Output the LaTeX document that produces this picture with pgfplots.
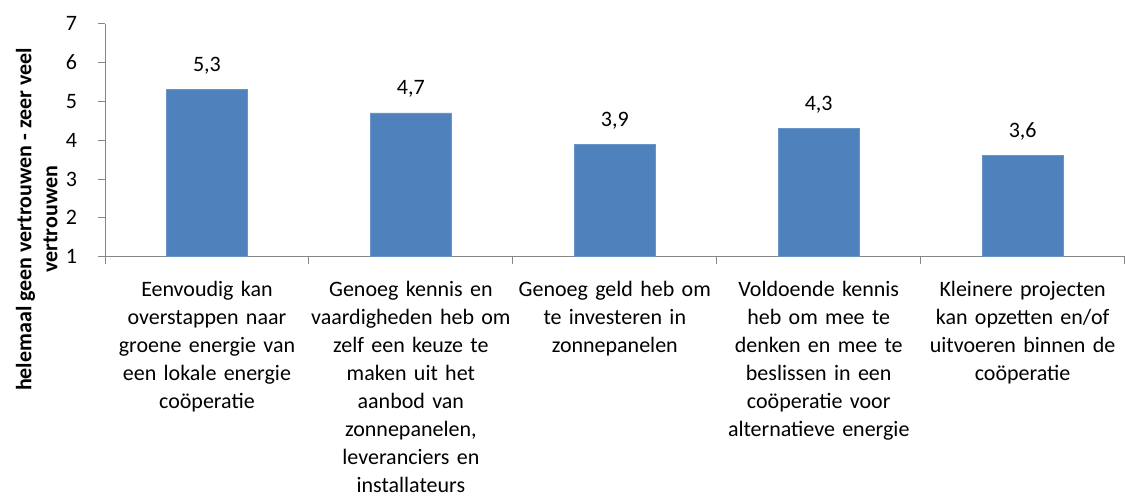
\documentclass[border=0pt]{standalone}
\usepackage{fontspec}
\setmainfont{Carlito}
\usepackage{pgfplots}
\pgfplotsset{compat=1.18}

\definecolor{barblue}{RGB}{79,129,189}
\definecolor{axisgray}{RGB}{134,134,134}

\begin{document}
\begin{tikzpicture}
\begin{axis}[
    width=510pt,
    height=116.5pt,
    scale only axis,
    xmin=-0.5, xmax=4.5,
    ymin=1, ymax=7,
    axis x line=bottom,
    axis y line=left,
    axis line style={axisgray, -},
    tick align=outside,
    major tick length=3.5pt,
    tick style={axisgray, thin},
    ytick={1,2,3,4,5,6,7},
    xtick={-0.5,0.5,1.5,2.5,3.5,4.5},
    x tick label as interval,
    xticklabels={
        {Eenvoudig kan\\overstappen naar\\groene energie van\\een lokale energie\\coöperatie},
        {Genoeg kennis en\\vaardigheden heb om\\zelf een keuze te\\maken uit het\\aanbod van\\zonnepanelen,\\leveranciers en\\installateurs},
        {Genoeg geld heb om\\te investeren in\\zonnepanelen},
        {Voldoende kennis\\heb om mee te\\denken en mee te\\beslissen in een\\coöperatie voor\\alternatieve energie},
        {Kleinere projecten\\kan opzetten en/of\\uitvoeren binnen de\\coöperatie}
    },
    xticklabel style={text width=100pt, align=center, anchor=north,
        inner sep=0pt, yshift=-8.5pt, font=\fontsize{11}{14}\selectfont},
    yticklabel style={font=\fontsize{11}{13}\selectfont, xshift=-7pt},
    /pgf/number format/assume math mode=true,
    ylabel={helemaal geen vertrouwen - zeer veel\\vertrouwen},
    ylabel style={align=center, at={(axis description cs:-0.067,0.16)},
        anchor=center, font=\fontsize{11}{13}\selectfont\bfseries},
    ybar,
    bar width=40.5pt,
    nodes near coords={\pgfmathprintnumber[use comma, fixed, fixed zerofill,
        precision=1]{\pgfplotspointmeta}},
    every node near coord/.append style={anchor=base, yshift=9pt,
        font=\fontsize{11}{13}\selectfont, black},
    clip=false,
]
\addplot[fill=barblue, draw=barblue!85!white] coordinates {
    (0,5.3)
    (1,4.7)
    (2,3.9)
    (3,4.3)
    (4,3.6)
};
% white margin as in the reference
\path (rel axis cs:0,0) ++(-52.5pt,-121pt);
\path (rel axis cs:1,1) ++(0pt,11.85pt);
\end{axis}
\end{tikzpicture}
\end{document}
